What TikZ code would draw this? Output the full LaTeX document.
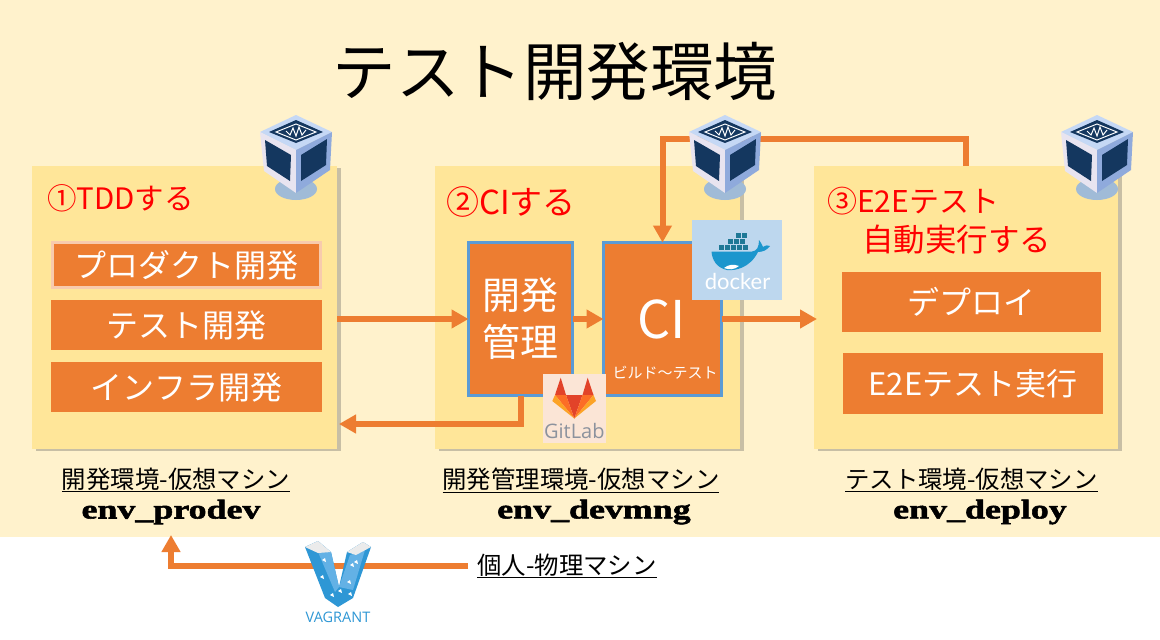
\documentclass[tikz,border=0pt]{standalone}
\usepackage{fontspec}
\setmainfont{Noto Sans CJK JP}
\newfontfamily\envfont[FakeStretch=1.33,FakeBold=2]{Liberation Serif}
\newfontfamily\logofont{Open Sans}
\newfontfamily\dockerfont{Lato}
\usetikzlibrary{arrows.meta, positioning, calc, shadows}
\definecolor{envcream}{RGB}{255,242,204}
\definecolor{panelyellow}{RGB}{255,230,153}
\definecolor{barorange}{RGB}{237,125,49}
\definecolor{barpale}{RGB}{248,203,173}
\definecolor{boxblue}{RGB}{91,155,213}
\definecolor{dockerbg}{RGB}{189,215,238}
\definecolor{dockerwhale}{RGB}{28,150,205}
\definecolor{dockerbin}{RGB}{30,120,150}
\definecolor{gitlabbg}{RGB}{251,229,214}
\definecolor{gitlabred}{RGB}{226,67,41}
\definecolor{gitlabmid}{RGB}{252,109,38}
\definecolor{gitlabyellow}{RGB}{252,163,38}
\definecolor{gitlabgray}{RGB}{140,146,157}
\definecolor{vboxdark}{RGB}{20,55,95}
\definecolor{vboxtop}{RGB}{197,216,245}
\definecolor{vboxleft}{RGB}{232,228,240}
\definecolor{vboxright}{RGB}{143,170,220}
\definecolor{vboxstand}{RGB}{160,187,215}
\definecolor{vagrantblue}{RGB}{46,151,213}
\definecolor{vagrantlight}{RGB}{99,177,229}
\newcommand{\fsz}[2][]{\fontsize{#2}{#2}\selectfont}
\tikzset{
  panel/.style={
    rectangle, fill=panelyellow, inner sep=0pt, outer sep=0pt,
    minimum height=283pt, drop shadow={shadow xshift=4pt, shadow yshift=-2pt,
    opacity=.3, fill=black!70}
  },
  bar/.style={
    rectangle, fill=barorange, inner sep=0pt, outer sep=0pt, text=white,
    font=\fsz{32}
  },
  toolbox/.style={
    rectangle, draw=boxblue, line width=3pt, fill=barorange, inner sep=0pt,
    outer sep=0pt, text=white, minimum height=153pt, align=center
  },
  redlabel/.style={anchor=west, inner sep=0pt, text=red},
  caption/.style={inner sep=0pt, font=\fsz{24.4}},
  envname/.style={inner sep=0pt, font=\fsz{27}\envfont\bfseries},
  arrow/.style={-{Triangle[length=17pt, width=18pt]}, line width=6pt, color=barorange},
  vbox/.pic={
    \fill[vboxstand] (0,36) ellipse (21 and 11);
    \fill[vboxtop] (0,-38) -- (36,-21) -- (0,-3) -- (-36,-21) -- cycle;
    \fill[vboxleft] (-36,-21) -- (0,-3) -- (0,40) -- (-32,18) -- cycle;
    \fill[vboxright] (36,-21) -- (0,-3) -- (0,40) -- (34,17) -- cycle;
    \fill[vboxdark] (0,-33) -- (27,-21) -- (0,-10) -- (-27,-21) -- cycle;
    \fill[vboxdark] (-31,-13) -- (-5,2) -- (-6,28) -- (-29,13) -- cycle;
    \fill[vboxdark] (31,-14) -- (5,2) -- (5,28) -- (30,12) -- cycle;
    \draw[white, line width=1pt] (0,-29) -- (20,-21) -- (0,-13) -- (-20,-21) -- cycle;
    \draw[white, line width=1pt] (-10,-22) -- (-6,-18) -- (-3,-25) -- (0,-17) -- (3,-26) -- (6,-18) -- (10,-23);
  }
}
\begin{document}
\begin{tikzpicture}[x=1pt, y=-1pt]
    \useasboundingbox (0,0) rectangle (1160,640);
    \fill[white] (0,0) rectangle (1160,640);
    \fill[envcream] (0,0) rectangle (1160,537);

    \node[inner sep=0pt, font=\fsz{63.5}] (title) at (555,72) {テスト開発環境};

    % three machines
    \node[panel, minimum width=305pt] (prodev) at (184.5,307.5) {};
    \node[panel, minimum width=305pt] (devmng) at (587.5,307.5) {};
    \node[panel, minimum width=304pt] (deploy) at (966,307.5) {};

    \node[redlabel, font=\fsz{29.5}] (tddlabel) at (47,198) {①TDDする};
    \node[redlabel, font=\fsz{33}] (cilabel) at (446,202) {②CIする};
    \node[redlabel, font=\fsz{30}] (e2elabel) at (827,201) {③E2Eテスト};
    \node[redlabel, font=\fsz{31.5}] (autolabel) at (862,240) {自動実行する};

    \node[bar, draw=barpale, line width=3pt, minimum width=268pt, minimum height=45pt] (product) at (186.5,265) {プロダクト開発};
    \node[bar, minimum width=271pt, minimum height=50pt] (testdev) at (186.5,325) {テスト開発};
    \node[bar, minimum width=271pt, minimum height=50pt] (infra) at (186.5,387) {インフラ開発};

    \node[toolbox, minimum width=104pt, font=\fontsize{38}{47}\selectfont] (mng) at (520.5,319) {開発\\管理};
    \node[toolbox, minimum width=118pt] (ci) at (662.5,319) {};
    \node[inner sep=0pt, text=white, font=\fsz{52}] (citext) at (662,319) {CI};
    \node[inner sep=0pt, text=white, font=\fsz{15}] (cisub) at (665,373) {ビルド〜テスト};

    \node[bar, minimum width=259pt, minimum height=60pt] (deployjob) at (971.5,302) {デプロイ};
    \node[bar, minimum width=260pt, minimum height=61pt, font=\fsz{31}] (e2ejob) at (973,383.5) {E2Eテスト実行};

    \coordinate (backtip) at (339,424);
    \coordinate (vagranttip) at (171,535);

    \draw[arrow] (mng -| prodev.east) -- (mng.west);
    \draw[arrow] (mng.east) -- (ci.west);
    \draw[arrow] (ci.east) -- ([xshift=3pt]ci -| deploy.west);
    \draw[arrow] (mng.south) |- (backtip);
    \draw[arrow] (deploy.north) -- ++(0,-27) -| (ci.north);

    % docker badge
    \node[rectangle, fill=dockerbg, inner sep=0pt, minimum width=90pt, minimum height=80pt] (dockerbox) at (737,260) {};
    \fill[dockerwhale] (711.5,251.5) -- (752,251.5) .. controls (757,251) and (759,247) .. (759,240) .. controls (761,242) and (762,245) .. (763,247) .. controls (766,245) and (768,245) .. (770,246) .. controls (767,250) and (763,252) .. (758,252) .. controls (750,268) and (735,271) .. (727,270) .. controls (717,268) and (712,260) .. (711.5,251.5) -- cycle;
    \fill[white] (724,268) .. controls (730,264) and (733,264) .. (739,266) .. controls (734,270) and (729,270) .. (724,268) -- cycle;
    \foreach \cx/\cy in {718/244,724/244,730/244,736/244,742/244,727/238,733/238,739/238,735/232,741/232}
      \fill[dockerbin, draw=dockerbg, line width=.3pt] (\cx,\cy) rectangle ++(6,6);
    \node[inner sep=0pt, text=white, font=\fsz{22}\dockerfont] (dockertext) at (737.5,281) {docker};

    % gitlab badge
    \node[rectangle, fill=gitlabbg, inner sep=0pt, minimum width=63pt, minimum height=69pt] (gitlabbox) at (574.5,408.5) {};
    \fill[gitlabred] (566,395) -- (582.5,395) -- (574.3,418.5) -- cycle;
    \fill[gitlabred] (560.7,377.7) -- (566,395) -- (555,395) -- cycle;
    \fill[gitlabred] (587.7,377.7) -- (582.5,395) -- (593.5,395) -- cycle;
    \fill[gitlabmid] (555,395) -- (566,395) -- (574.3,418.5) -- cycle;
    \fill[gitlabmid] (593.5,395) -- (582.5,395) -- (574.3,418.5) -- cycle;
    \fill[gitlabyellow] (555,395) -- (552.3,401) -- (574.3,418.5) -- cycle;
    \fill[gitlabyellow] (593.5,395) -- (596,401) -- (574.3,418.5) -- cycle;
    \node[inner sep=0pt, text=gitlabgray, font=\fsz{20}\logofont] (gitlabtext) at (574.3,431) {GitLab};

    % virtual machines
    \pic at (296,153) {vbox};
    \pic at (725,153) {vbox};
    \pic at (1097,153) {vbox};

    \node[caption] (capprodev) at (176,480) {\underline{開発環境-仮想マシン}};
    \node[caption] (capdevmng) at (581,480) {\underline{開発管理環境-仮想マシン}};
    \node[caption] (capdeploy) at (971.5,480) {\underline{テスト環境-仮想マシン}};
    \node[envname] (nameprodev) at (171,512) {env\_prodev};
    \node[envname] (namedevmng) at (594,512) {env\_devmng};
    \node[envname] (namedeploy) at (980,512) {env\_deploy};

    \node[caption] (phys) at (567,566) {\underline{個人-物理マシン}};
    \draw[arrow] ([xshift=-9pt]phys.west) -| (vagranttip);

    % vagrant mark
    \fill[vagrantblue] (305,547) -- (318,541) -- (331,552) -- (339,587) -- (347,552) -- (363,542) -- (371,547) -- (353,598) -- (338,607) -- (325,598) -- cycle;
    \fill[vagrantlight] (318,552) -- (331,552) -- (339,587) -- (335,592) -- cycle;
    \fill[vagrantlight] (350,555) -- (365,550) -- (353,590) -- (339,587) -- cycle;
    \fill[black!8] (305,547) -- (318,541) -- (331,552) -- (318,553) -- cycle;
    \fill[black!8] (347,552) -- (363,542) -- (371,547) -- (356,555) -- cycle;
    \foreach \wx/\wy in {322/560,333/560,320/577,350/565,354/562,347/582,338/591,330/595,348/594}
      \fill[white] (\wx,\wy) -- ++(3,-2) -- ++(1,4) -- cycle;
    \node[inner sep=0pt, text=vagrantblue, font=\fsz{14.5}\logofont] (vagranttext) at (338,617) {VAGRANT};
\end{tikzpicture}
\end{document}
